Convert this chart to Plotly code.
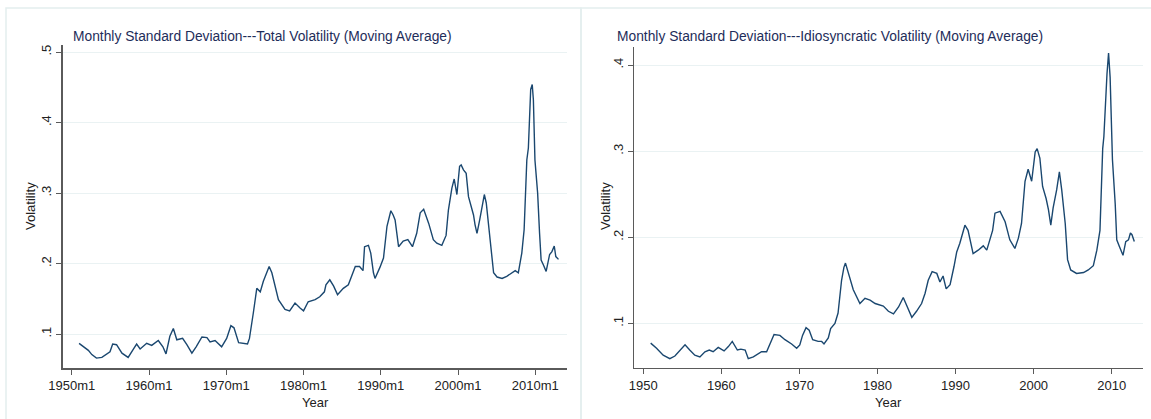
import plotly.graph_objects as go

W, H = 1151, 419

# ---------------- data ----------------
total_years = [1950.95, 1951.5, 1952.15, 1952.6, 1953.2, 1953.9, 1954.5, 1954.95, 1955.3, 1955.8,
               1956.5, 1957.3, 1958.0, 1958.4, 1958.85, 1959.7, 1960.35, 1961.2, 1961.8, 1962.2,
               1962.7, 1963.15, 1963.6, 1964.35, 1964.9, 1965.55, 1966.1, 1966.85, 1967.5, 1967.9,
               1968.55, 1969.4, 1970.05, 1970.6, 1971.0, 1971.6, 1972.75, 1973.0, 1973.5, 1973.95,
               1974.4, 1974.8, 1975.55, 1975.9, 1976.75, 1977.6, 1978.2, 1978.9, 1979.55, 1980.0,
               1980.6, 1981.5, 1982.1, 1982.7, 1982.9, 1983.4, 1983.9, 1984.4, 1985.15, 1985.8,
               1986.7, 1987.25, 1987.7, 1987.9, 1988.4, 1988.7, 1989.05, 1989.25, 1989.9, 1990.35,
               1990.8, 1991.3, 1991.6, 1991.85, 1992.3, 1992.9, 1993.5, 1994.1, 1994.65, 1995.1,
               1995.55, 1996.2, 1996.8, 1997.25, 1997.9, 1998.45, 1998.75, 1999.2, 1999.5, 1999.85,
               2000.2, 2000.4, 2000.7, 2001.05, 2001.35, 2001.7, 2002.0, 2002.2, 2002.45, 2002.8,
               2003.4, 2003.65, 2003.95, 2004.3, 2004.6, 2005.05, 2005.7, 2006.3, 2006.95, 2007.4,
               2007.8, 2008.25, 2008.55, 2008.9, 2009.1, 2009.4, 2009.6, 2009.75, 2009.95, 2010.3,
               2010.55, 2010.75, 2011.05, 2011.4, 2011.85, 2012.15, 2012.45, 2012.65, 2013.0]
total_vol = [0.087, 0.082, 0.077, 0.071, 0.066, 0.067, 0.072, 0.075, 0.086, 0.085,
             0.073, 0.067, 0.079, 0.086, 0.079, 0.087, 0.084, 0.091, 0.082, 0.072,
             0.097, 0.108, 0.092, 0.094, 0.085, 0.073, 0.082, 0.096, 0.095, 0.089,
             0.091, 0.082, 0.094, 0.112, 0.109, 0.088, 0.086, 0.094, 0.130, 0.165,
             0.160, 0.175, 0.196, 0.187, 0.149, 0.135, 0.133, 0.144, 0.137, 0.133,
             0.146, 0.149, 0.153, 0.160, 0.170, 0.177, 0.168, 0.156, 0.165, 0.170,
             0.196, 0.196, 0.190, 0.224, 0.226, 0.215, 0.187, 0.179, 0.195, 0.208,
             0.253, 0.275, 0.269, 0.262, 0.224, 0.232, 0.234, 0.224, 0.243, 0.272,
             0.277, 0.257, 0.234, 0.229, 0.226, 0.240, 0.276, 0.307, 0.320, 0.298,
             0.338, 0.340, 0.333, 0.328, 0.295, 0.281, 0.269, 0.255, 0.243, 0.262,
             0.298, 0.286, 0.253, 0.220, 0.187, 0.181, 0.179, 0.182, 0.187, 0.190,
             0.187, 0.215, 0.248, 0.347, 0.364, 0.447, 0.454, 0.432, 0.347, 0.300,
             0.243, 0.205, 0.198, 0.189, 0.213, 0.217, 0.225, 0.210, 0.206]

idio_years = [1950.95, 1951.7, 1952.55, 1953.4, 1954.05, 1954.7, 1955.35, 1955.95, 1956.6, 1957.25,
              1957.9, 1958.45, 1958.95, 1959.6, 1960.35, 1960.9, 1961.4, 1962.05, 1962.5, 1963.05,
              1963.45, 1964.1, 1965.15, 1965.8, 1966.25, 1966.75, 1967.5, 1968.15, 1969.0, 1969.65,
              1970.05, 1970.4, 1970.85, 1971.25, 1971.7, 1972.4, 1972.85, 1973.15, 1973.7, 1974.0,
              1974.55, 1974.95, 1975.4, 1975.7, 1975.9, 1976.2, 1976.5, 1976.9, 1977.75, 1978.4,
              1979.05, 1979.7, 1980.75, 1981.4, 1982.05, 1982.7, 1983.3, 1983.85, 1984.4, 1985.0,
              1985.65, 1986.1, 1986.5, 1987.0, 1987.6, 1988.0, 1988.4, 1988.8, 1989.3, 1989.8,
              1990.15, 1990.55, 1991.2, 1991.6, 1992.25, 1992.9, 1993.55, 1994.0, 1994.4, 1994.75,
              1995.05, 1995.7, 1996.35, 1996.95, 1997.6, 1998.05, 1998.45, 1998.9, 1999.3, 1999.75,
              2000.2, 2000.45, 2000.8, 2001.15, 2001.6, 2001.9, 2002.2, 2002.5, 2002.95, 2003.3,
              2003.6, 2004.05, 2004.35, 2004.75, 2005.5, 2006.4, 2007.0, 2007.65, 2008.1, 2008.5,
              2008.85, 2009.0, 2009.4, 2009.6, 2009.8, 2010.1, 2010.45, 2010.65, 2011.0, 2011.45,
              2011.8, 2012.15, 2012.4, 2012.6, 2012.9]
idio_vol = [0.077, 0.071, 0.063, 0.059, 0.062, 0.069, 0.075, 0.069, 0.063, 0.061,
            0.067, 0.069, 0.067, 0.072, 0.068, 0.073, 0.079, 0.069, 0.070, 0.069,
            0.059, 0.061, 0.067, 0.067, 0.077, 0.087, 0.086, 0.081, 0.076, 0.071,
            0.075, 0.086, 0.095, 0.092, 0.081, 0.079, 0.079, 0.076, 0.083, 0.094,
            0.100, 0.112, 0.150, 0.165, 0.170, 0.160, 0.150, 0.139, 0.123, 0.129,
            0.127, 0.123, 0.120, 0.114, 0.111, 0.119, 0.130, 0.119, 0.107, 0.114,
            0.123, 0.135, 0.150, 0.160, 0.158, 0.148, 0.155, 0.140, 0.145, 0.166,
            0.183, 0.193, 0.214, 0.208, 0.181, 0.185, 0.190, 0.185, 0.199, 0.208,
            0.228, 0.230, 0.218, 0.197, 0.187, 0.199, 0.216, 0.265, 0.279, 0.265,
            0.299, 0.303, 0.292, 0.259, 0.245, 0.232, 0.214, 0.234, 0.255, 0.276,
            0.255, 0.216, 0.174, 0.162, 0.158, 0.159, 0.162, 0.167, 0.185, 0.208,
            0.303, 0.317, 0.390, 0.414, 0.386, 0.290, 0.239, 0.197, 0.189, 0.179,
            0.195, 0.197, 0.205, 0.203, 0.195]

left_xticks = [1950, 1960, 1970, 1980, 1990, 2000, 2010]
left_xlabels = ["1950m1", "1960m1", "1970m1", "1980m1", "1990m1", "2000m1", "2010m1"]
right_xticks = [1950, 1960, 1970, 1980, 1990, 2000, 2010]
right_xlabels = ["1950", "1960", "1970", "1980", "1990", "2000", "2010"]
left_yticks = [0.1, 0.2, 0.3, 0.4, 0.5]
left_ylabels = [".1", ".2", ".3", ".4", ".5"]
right_yticks = [0.1, 0.2, 0.3, 0.4]
right_ylabels = [".1", ".2", ".3", ".4"]

title_left = "Monthly Standard Deviation---Total Volatility (Moving Average)"
title_right = "Monthly Standard Deviation---Idiosyncratic Volatility (Moving Average)"

# ---------------- styling ----------------
LINE = "#1a476f"
GRID = "#eaf2f3"
AXIS = "#5a5a5a"
FONT = "Liberation Sans Narrow, Arial Narrow, sans-serif"
TITLE_C = "#1e2d5a"

def px_x(p):
    return p / W

def px_y(p):
    return 1 - p / H

fig = go.Figure()
fig.add_trace(go.Scatter(x=total_years, y=total_vol, mode="lines",
                         line=dict(color=LINE, width=1.4), xaxis="x", yaxis="y",
                         showlegend=False, hoverinfo="skip"))
fig.add_trace(go.Scatter(x=idio_years, y=idio_vol, mode="lines",
                         line=dict(color=LINE, width=1.4), xaxis="x2", yaxis="y2",
                         showlegend=False, hoverinfo="skip"))

common_x = dict(showline=True, linecolor=AXIS, linewidth=1.5, ticks="outside",
                ticklen=5, tickcolor=AXIS, tickwidth=1, showgrid=False, zeroline=False,
                automargin=False,
                tickfont=dict(family=FONT, size=13, color="#222222"))
common_y = dict(showline=True, linecolor=AXIS, linewidth=1.5, ticks="outside",
                ticklen=5, tickcolor=AXIS, tickwidth=1, showgrid=True, gridcolor=GRID,
                gridwidth=1, zeroline=False, tickangle=-90, automargin=False,
                tickfont=dict(family=FONT, size=13, color="#222222"))

fig.update_layout(
    template="none",
    width=W, height=H, autosize=False,
    margin=dict(l=0, r=0, t=0, b=0, pad=0),
    paper_bgcolor="white", plot_bgcolor="white",
    hovermode=False,
    xaxis=dict(domain=[px_x(62.7), px_x(567)], range=[1948.83, 2014.1],
               tickvals=left_xticks, ticktext=left_xlabels, anchor="y", **common_x),
    yaxis=dict(domain=[px_y(368), px_y(45)], range=[0.052, 0.51],
               tickvals=left_yticks, ticktext=left_ylabels, anchor="x", **common_y),
    xaxis2=dict(domain=[px_x(634.3), px_x(1143.3)], range=[1948.85, 2014.05],
                tickvals=right_xticks, ticktext=right_xlabels, anchor="y2", **common_x),
    yaxis2=dict(domain=[px_y(367.5), px_y(47)], range=[0.0487, 0.421],
                tickvals=right_yticks, ticktext=right_ylabels, anchor="x2", **common_y),
)

# panel frames
for x0, x1 in [(6, 581), (581, 1160)]:
    fig.add_shape(type="rect", xref="paper", yref="paper",
                  x0=px_x(x0), x1=px_x(x1), y0=px_y(430), y1=px_y(8),
                  line=dict(color="#e4eeee", width=1.5), fillcolor="rgba(0,0,0,0)",
                  layer="below")

ann = []
ann.append(dict(text=title_left, x=px_x(71), y=px_y(36), xanchor="left", yanchor="middle",
                font=dict(family=FONT, size=13.8, color=TITLE_C)))
ann.append(dict(text=title_right, x=px_x(615), y=px_y(36), xanchor="left", yanchor="middle",
                font=dict(family=FONT, size=13.8, color=TITLE_C)))
ann.append(dict(text="Year", x=px_x(315), y=px_y(402), xanchor="center", yanchor="middle",
                font=dict(family=FONT, size=13, color="#222222")))
ann.append(dict(text="Year", x=px_x(888), y=px_y(402), xanchor="center", yanchor="middle",
                font=dict(family=FONT, size=13, color="#222222")))
ann.append(dict(text="Volatility", x=px_x(30), y=px_y(206), xanchor="center", yanchor="middle",
                textangle=-90, font=dict(family=FONT, size=13, color="#222222")))
ann.append(dict(text="Volatility", x=px_x(605), y=px_y(206), xanchor="center", yanchor="middle",
                textangle=-90, font=dict(family=FONT, size=13, color="#222222")))
for a in ann:
    a.update(xref="paper", yref="paper", showarrow=False)
fig.update_layout(annotations=ann)

fig.write_html("out.html", config={"displayModeBar": False, "staticPlot": True},
               post_script="document.body.style.margin='0';document.body.style.overflow='hidden';")
